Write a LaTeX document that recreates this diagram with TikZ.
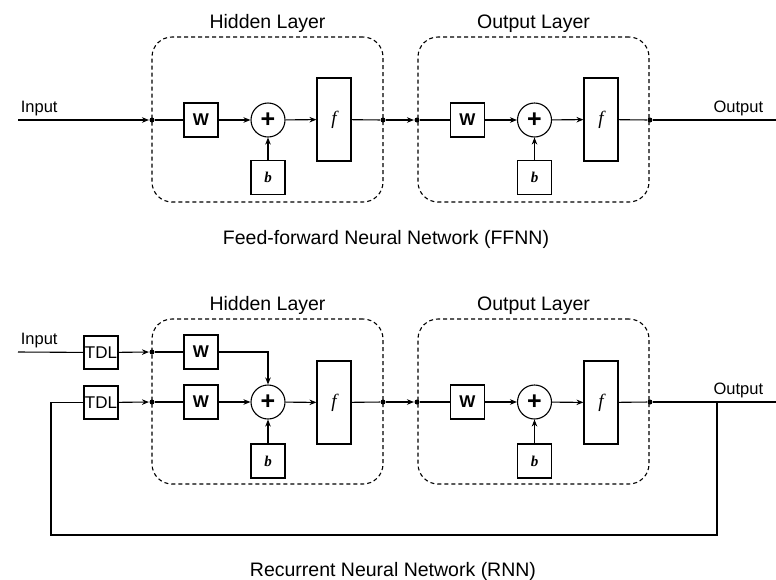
\documentclass[tikz,border=0pt]{standalone}
\usepackage{fontspec}
\setmainfont{Liberation Serif}
\setsansfont{Liberation Sans}
\usetikzlibrary{arrows.meta}

\tikzset{
  >={Stealth[length=7pt,width=5.5pt]},
  every path/.style={line width=1.1pt},
  blk/.style={draw, line width=1.1pt, minimum width=34pt, minimum height=34pt, inner sep=0pt},
  wt/.style={blk, font=\sffamily\bfseries\fontsize{17}{17}\selectfont},
  bias/.style={blk, font=\bfseries\itshape\fontsize{15}{15}\selectfont},
  act/.style={blk, minimum height=83pt, font=\itshape\fontsize{19}{19}\selectfont},
  tdl/.style={blk, minimum height=33pt, font=\sffamily\fontsize{17}{17}\selectfont},
  sum/.style={draw, circle, line width=1.1pt, minimum size=34pt, inner sep=0pt, font=\sffamily\bfseries\fontsize{25}{25}\selectfont},
  dot/.style={circle, fill, inner sep=0pt, minimum size=5pt},
  layer/.style={draw, dashed, dash pattern=on 4pt off 3pt, rounded corners=20pt, line width=1.1pt, minimum width=231pt, minimum height=165pt},
  title/.style={font=\sffamily\fontsize{19.5}{20}\selectfont, anchor=base},
  lbl/.style={font=\sffamily\fontsize{16.5}{17}\selectfont},
}

\begin{document}
\begin{tikzpicture}[x=1pt,y=-1pt]
  \useasboundingbox (0,0) rectangle (776,579);

  % feed-forward network
  \node[layer] (hid1) at (267.5,119.5) {};
  \node[layer] (out1) at (533.5,119.5) {};
  \node[title] at (267.5,28) {Hidden Layer};
  \node[title] at (533.5,28) {Output Layer};

  \coordinate (in1) at (18,120);
  \coordinate (end1) at (776,120);
  \node[lbl, anchor=base west] at (17,112) {Input};
  \node[lbl, anchor=base east] at (767,112) {Output};

  \node[dot] (d1) at (152,120) {};
  \node[wt] (w1) at (201,120) {W};
  \node[sum] (s1) at (268,120) {+};
  \node[bias] (b1) at (268,177.5) {b};
  \node[act] (f1) at (334,119.5) {f};
  \node[dot] (d2) at (383,120) {};
  \node[dot] (d3) at (417,120) {};
  \node[wt] (w2) at (467.5,120) {W};
  \node[sum] (s2) at (534.5,120) {+};
  \node[bias] (b2) at (534.5,177.5) {b};
  \node[act] (f2) at (601,119.5) {f};
  \node[dot] (d4) at (650,120) {};

  \draw [->] (in1) -- (d1);
  \draw (d1) -- (w1);
  \draw [->] (w1) -- (s1);
  \draw [->] (b1) -- (s1);
  \draw [->] (s1) -- (f1);
  \draw (f1) -- (d2);
  \draw [->] (d2) -- (d3);
  \draw (d3) -- (w2);
  \draw [->] (w2) -- (s2);
  \draw [->] (b2) -- (s2);
  \draw [->] (s2) -- (f2);
  \draw (f2) -- (d4);
  \draw (d4) -- (end1);

  \node[title] at (386,244) {Feed-forward Neural Network (FFNN)};

  % recurrent network
  \node[layer] (hid2) at (267.5,401.5) {};
  \node[layer] (out2) at (533.5,401.5) {};
  \node[title] at (267.5,310) {Hidden Layer};
  \node[title] at (533.5,310) {Output Layer};

  \coordinate (in2) at (18,352);
  \coordinate (end2) at (776,402);
  \coordinate (j) at (717,402);
  \coordinate (fb) at (51,535);
  \node[lbl, anchor=base west] at (17,344) {Input};
  \node[lbl, anchor=base east] at (767,394) {Output};

  \node[tdl] (t1) at (101,352.5) {TDL};
  \node[tdl] (t2) at (101,402.5) {TDL};
  \node[dot] (d5) at (152,352) {};
  \node[dot] (d6) at (152,402) {};
  \node[wt] (w3) at (201,352) {W};
  \node[wt] (w4) at (201,402) {W};
  \node[sum] (s3) at (268,402) {+};
  \node[bias] (b3) at (268,461) {b};
  \node[act] (f3) at (334,402.5) {f};
  \node[dot] (d7) at (383,402) {};
  \node[dot] (d8) at (417,402) {};
  \node[wt] (w5) at (467.5,402) {W};
  \node[sum] (s4) at (534.5,402) {+};
  \node[bias] (b4) at (534.5,461) {b};
  \node[act] (f4) at (601,402.5) {f};
  \node[dot] (d9) at (650,402) {};

  \draw (in2) -- (t1);
  \draw [->] (t1) -- (d5);
  \draw [->] (t2) -- (d6);
  \draw (d5) -- (w3);
  \draw (d6) -- (w4);
  \draw [->] (w3) -| (s3);
  \draw [->] (w4) -- (s3);
  \draw [->] (b3) -- (s3);
  \draw [->] (s3) -- (f3);
  \draw (f3) -- (d7);
  \draw [->] (d7) -- (d8);
  \draw (d8) -- (w5);
  \draw [->] (w5) -- (s4);
  \draw [->] (b4) -- (s4);
  \draw [->] (s4) -- (f4);
  \draw (f4) -- (d9);
  \draw (d9) -- (end2);
  \draw (j) |- (fb) |- (t2);

  \node[title] at (393,576) {Recurrent Neural Network (RNN)};
\end{tikzpicture}
\end{document}
